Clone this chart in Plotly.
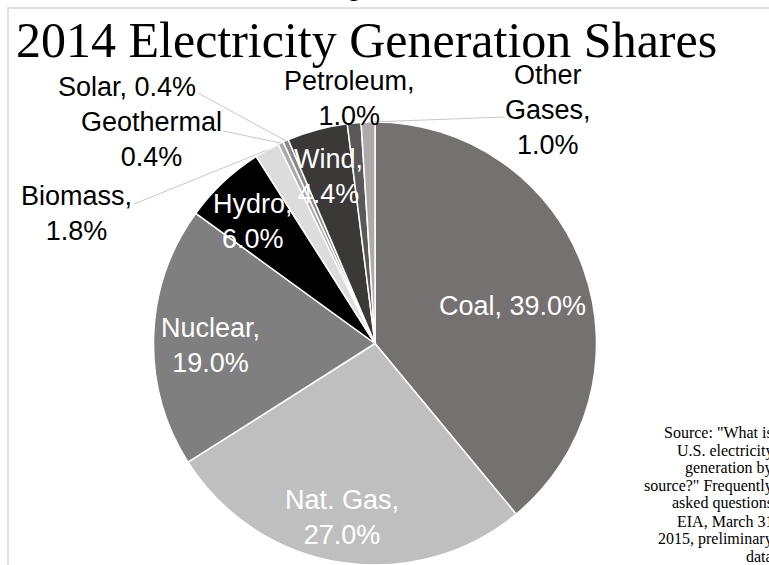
import numpy as np
import plotly.graph_objects as go

W, H = 769, 565

# data
sources = ["Coal", "Nat. Gas", "Nuclear", "Hydro", "Biomass",
           "Geothermal", "Solar", "Wind", "Petroleum", "Other Gases"]
shares = [39.0, 27.0, 19.0, 6.0, 1.8, 0.4, 0.4, 4.4, 1.0, 1.0]
colors = ["#767171", "#bfbfbf", "#7f7f7f", "#000000", "#dcdcdc",
          "#aeaaaa", "#8a8a8a", "#3b3838", "#595959", "#aeaaaa"]

# how each label is written and where it sits (pixels, label centre)
label_names = ["Coal", "Nat. Gas", "Nuclear", "Hydro", "Biomass",
               "Geothermal", "Solar", "Wind", "Petroleum", "Other<br>Gases"]
label_sep = [", ", ",<br>", ",<br>", ",<br>", ",<br>", "<br>", ", ", ",<br>", ",<br>", ",<br>"]
label_pos = [(512, 306), (342, 517), (210, 345), (253, 221), (76, 213),
             (151, 140), (127, 87), (328, 177), (349, 99), (548, 110)]
label_inside = [True, True, True, True, False, False, False, True, False, False]
# leader lines start at these text points (pixels); None = no leader
leader_start = [None, None, None, None, (134, 204), (223, 131), (198, 93), None, None, (505, 117)]

source_note = ['Source: "What is', 'U.S. electricity', 'generation by',
               'source?" Frequently', 'asked questions', 'EIA, March 31',
               '2015, preliminary', 'data']


def px(x):
    return x / W


def py(y):
    return 1 - y / H


# pie geometry in pixels
dom_x = (153, 597)
dom_y = (122, 565)
cx = (dom_x[0] + dom_x[1]) / 2
cy = (dom_y[0] + dom_y[1]) / 2
r = min(dom_x[1] - dom_x[0], dom_y[1] - dom_y[0]) / 2

fig = go.Figure()
fig.add_trace(go.Pie(
    labels=sources, values=shares, sort=False, direction="clockwise", rotation=0,
    textinfo="none", hoverinfo="label+percent", showlegend=False,
    marker=dict(colors=colors, line=dict(color="white", width=1.5)),
    domain=dict(x=[px(dom_x[0]), px(dom_x[1])], y=[py(dom_y[1]), py(dom_y[0])]),
))

# slice mid angles (clockwise from 12 o'clock)
vals = np.array(shares)
ends = np.cumsum(vals) / vals.sum() * 2 * np.pi
mids = ends - vals / vals.sum() * np.pi

shapes = []
annotations = []
for i, name in enumerate(label_names):
    txt = f"{name}{label_sep[i]}{shares[i]:.1f}%"
    lx, ly = label_pos[i]
    annotations.append(dict(
        x=px(lx), y=py(ly), xref="paper", yref="paper", text=txt, showarrow=False,
        xanchor="center", yanchor="middle", align="center",
        font=dict(family="Liberation Sans, Arial", size=27,
                  color="white" if label_inside[i] else "black"),
    ))
    if leader_start[i] is not None:
        sx, sy = leader_start[i]
        tx = cx + r * np.sin(mids[i])
        ty = cy - r * np.cos(mids[i])
        shapes.append(dict(type="line", xref="paper", yref="paper",
                           x0=px(sx), y0=py(sy), x1=px(tx), y1=py(ty),
                           line=dict(color="#c8c8c8", width=1)))

# frame of the chart area
shapes.append(dict(type="rect", xref="paper", yref="paper",
                   x0=px(8), y0=py(8), x1=px(800), y1=py(600),
                   line=dict(color="#d9d9d9", width=1.5), layer="below"))

# title
annotations.append(dict(
    x=px(14), y=py(40), xref="paper", yref="paper", showarrow=False,
    text="2014 Electricity Generation Shares", xanchor="left", yanchor="middle",
    font=dict(family="Liberation Serif, Times New Roman", size=50, color="black"),
))
# cut-off text above the frame
annotations.append(dict(
    x=px(354), y=py(-12), xref="paper", yref="paper", showarrow=False,
    text="g", xanchor="center", yanchor="middle",
    font=dict(family="Liberation Serif, Times New Roman", size=24, color="black"),
))

# source note, right aligned and clipped by the page edge
for k, line in enumerate(source_note):
    annotations.append(dict(
        x=px(775), y=py(433 + k * 17.6), xref="paper", yref="paper", showarrow=False,
        text=line, xanchor="right", yanchor="middle",
        font=dict(family="Liberation Serif, Times New Roman", size=16, color="black"),
    ))

fig.update_layout(
    width=W, height=H,
    margin=dict(l=0, r=0, t=0, b=0),
    paper_bgcolor="white", plot_bgcolor="white",
    shapes=shapes, annotations=annotations,
)

# drop the page's default body margin so the figure fills the window
fig.write_html("out.html", config={"displayModeBar": False},
               post_script="document.body.style.margin = '0';")
